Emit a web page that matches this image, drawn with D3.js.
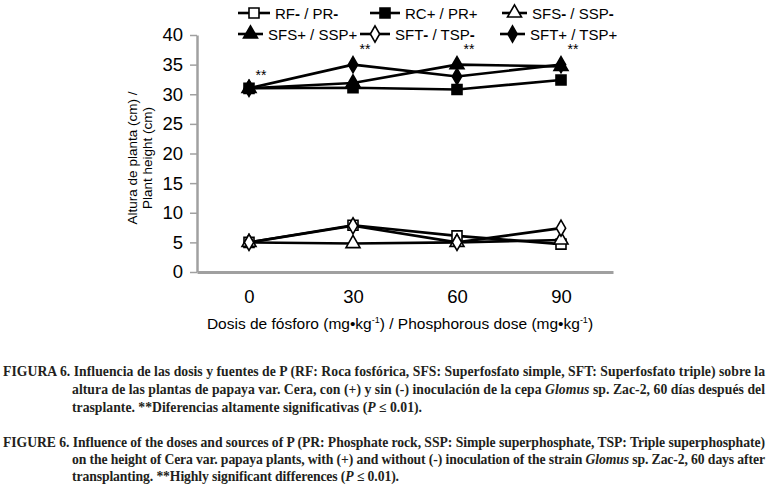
<!DOCTYPE html>
<html>
<head>
<meta charset="utf-8">
<script src="https://cdn.jsdelivr.net/npm/d3@7"></script>
<style>
  html,body{margin:0;padding:0;background:#fff;}
  svg{display:block;font-family:"Liberation Sans",Arial,sans-serif;}
</style>
</head>
<body>
<svg id="chart" width="771" height="497"></svg>
<script>
// dosis de fósforo (mg·kg-1)
const doses = ['0','30','60','90'];
const yTicks = [0,5,10,15,20,25,30,35,40];

// altura de planta (cm) por tratamiento
const rfMinus  = [5.0, 7.9, 6.1, 4.7];
const rcPlus   = [31.0, 31.1, 30.8, 32.4];
const sfsMinus = [5.0, 4.8, 5.0, 5.4];
const sfsPlus  = [31.0, 31.9, 35.0, 34.7];
const sftMinus = [5.0, 7.8, 5.0, 7.4];
const sftPlus  = [31.0, 35.0, 33.0, 35.0];

// ** significance marks (height in cm)
const sigDoses  = ['0','30','60','90'];
const sigHeight = [33.8, 38.1, 38.1, 38.1];

const series = [
  {name:['RF','-',' / PR','-'],  vals:rfMinus,  sym:'square',   fill:'#fff'},
  {name:['RC+ / PR+'],           vals:rcPlus,   sym:'square',   fill:'#000'},
  {name:['SFS','-',' / SSP','-'],vals:sfsMinus, sym:'triangle', fill:'#fff'},
  {name:['SFS+ / SSP+'],         vals:sfsPlus,  sym:'triangle', fill:'#000'},
  {name:['SFT','-',' / TSP','-'],vals:sftMinus, sym:'diamond',  fill:'#fff'},
  {name:['SFT+ / TSP+'],         vals:sftPlus,  sym:'diamond',  fill:'#000'}
];

const svg = d3.select('#chart');
const AXC = '#a0a0a0';

const x = d3.scalePoint().domain(doses).range([197,613]).padding(0.5);
const y = d3.scaleLinear().domain([0,40]).range([272,35]);

// y axis
const ya = svg.append('g').attr('transform','translate(197,0)')
  .call(d3.axisLeft(y).tickValues(yTicks).tickSize(7).tickSizeOuter(0).tickPadding(7));
ya.select('.domain').attr('stroke',AXC).attr('stroke-width',2.5);
ya.selectAll('.tick line').attr('stroke',AXC).attr('stroke-width',1.5);
ya.selectAll('.tick text').attr('font-size',18.5).attr('fill','#000').attr('font-family','Liberation Sans, Arial, sans-serif');

// x axis
const xa = svg.append('g').attr('transform','translate(0,272)')
  .call(d3.axisBottom(x).tickSize(0).tickSizeOuter(0).tickPadding(18));
xa.select('.domain').attr('stroke',AXC).attr('stroke-width',3);
xa.selectAll('.tick text').attr('font-size',18.5).attr('fill','#000').attr('font-family','Liberation Sans, Arial, sans-serif');

// axis titles
const yt = svg.append('text').attr('transform','translate(137,158) rotate(-90)')
  .attr('text-anchor','middle').attr('font-size',13.5);
yt.append('tspan').attr('x',0).attr('dy',0).text('Altura de planta (cm) /');
yt.append('tspan').attr('x',0).attr('dy',15).text('Plant height (cm)');

const xt = svg.append('text').attr('x',400).attr('y',329).attr('text-anchor','middle').attr('font-size',15.5);
xt.append('tspan').text('Dosis de fósforo (mg•kg');
xt.append('tspan').attr('font-size',9).attr('dy',-6).text('-1');
xt.append('tspan').attr('dy',6).text(') / Phosphorous dose (mg•kg');
xt.append('tspan').attr('font-size',9).attr('dy',-6).text('-1');
xt.append('tspan').attr('dy',6).text(')');

// symbols
const symType = {square:d3.symbolSquare, triangle:d3.symbolTriangle, diamond:d3.symbolDiamond};
const symSize = {square:100, triangle:85, diamond:75};
const symbol = s => d3.symbol().type(symType[s]).size(symSize[s])();

// lines + markers
const line = d3.line().x((d,i)=>x(doses[i])).y(d=>y(d));
series.forEach(s=>{
  svg.append('path').datum(s.vals).attr('d',line).attr('fill','none')
    .attr('stroke','#000').attr('stroke-width',2.6).attr('stroke-linejoin','round');
});
series.forEach(s=>{
  svg.append('g').selectAll('path').data(s.vals).join('path')
    .attr('transform',(d,i)=>`translate(${x(doses[i])},${y(d)})`)
    .attr('d',symbol(s.sym)).attr('fill',s.fill).attr('stroke','#000').attr('stroke-width',1.6);
});

// significance
svg.append('g').selectAll('text').data(sigHeight).join('text')
  .attr('x',(d,i)=>x(sigDoses[i])+12).attr('y',d=>y(d)+8)
  .attr('text-anchor','middle').attr('font-size',14).text('**');

// legend
const legPos = [[238,13],[370,13],[502,13],[238,34],[360,34],[500,34]];
const legLen = [32,30,25,25,30,25];
series.forEach((s,i)=>{
  const [lx,ly] = legPos[i], L = legLen[i];
  const g = svg.append('g').attr('transform',`translate(${lx},${ly})`);
  g.append('line').attr('x1',0).attr('x2',L).attr('y1',0).attr('y2',0).attr('stroke','#000').attr('stroke-width',2.6);
  g.append('path').attr('transform',`translate(${L/2},0)`).attr('d',symbol(s.sym))
    .attr('fill',s.fill).attr('stroke','#000').attr('stroke-width',1.6);
  const t = g.append('text').attr('x',L+5).attr('y',5.5).attr('font-size',15);
  s.name.forEach(p=>{
    const sp = t.append('tspan').text(p);
    if(p==='-') sp.attr('font-weight',900);
  });
});

// caption
const cap = [
  {x:3,  y:376, w:762, parts:[['FIGURA 6. Influencia de las dosis y fuentes de P (RF: Roca fosfórica, SFS: Superfosfato simple, SFT: Superfosfato triple) sobre la']]},
  {x:72, y:394, w:693, parts:[['altura de las plantas de papaya var. Cera, con (+) y sin (-) inoculación de la cepa '],['Glomus','i'],[' sp. Zac-2, 60 días después del']]},
  {x:72, y:412, w:350, parts:[['trasplante. **Diferencias altamente significativas ('],['P','i'],[' ≤ 0.01).']]},
  {x:3,  y:447, w:762, parts:[['FIGURE 6. Influence of the doses and sources of P (PR: Phosphate rock, SSP: Simple superphosphate, TSP: Triple superphosphate)']]},
  {x:72, y:464, w:693, parts:[['on the height of Cera var. papaya plants, with (+) and without (-) inoculation of the strain '],['Glomus','i'],[' sp. Zac-2, 60 days after']]},
  {x:72, y:481, w:327, parts:[['transplanting. **Highly significant differences ('],['P','i'],[' ≤ 0.01).']]}
];
cap.forEach(c=>{
  const t = svg.append('text').attr('x',c.x).attr('y',c.y)
    .attr('font-family','"Liberation Serif","Times New Roman",serif').attr('font-weight',700)
    .attr('font-size',13.7).attr('fill','#231f20');
  if(c.w) t.attr('textLength',c.w).attr('lengthAdjust','spacing');
  c.parts.forEach(p=>{
    const sp = t.append('tspan').text(p[0]);
    if(p[1]==='i') sp.attr('font-style','italic');
  });
});
</script>
</body>
</html>
